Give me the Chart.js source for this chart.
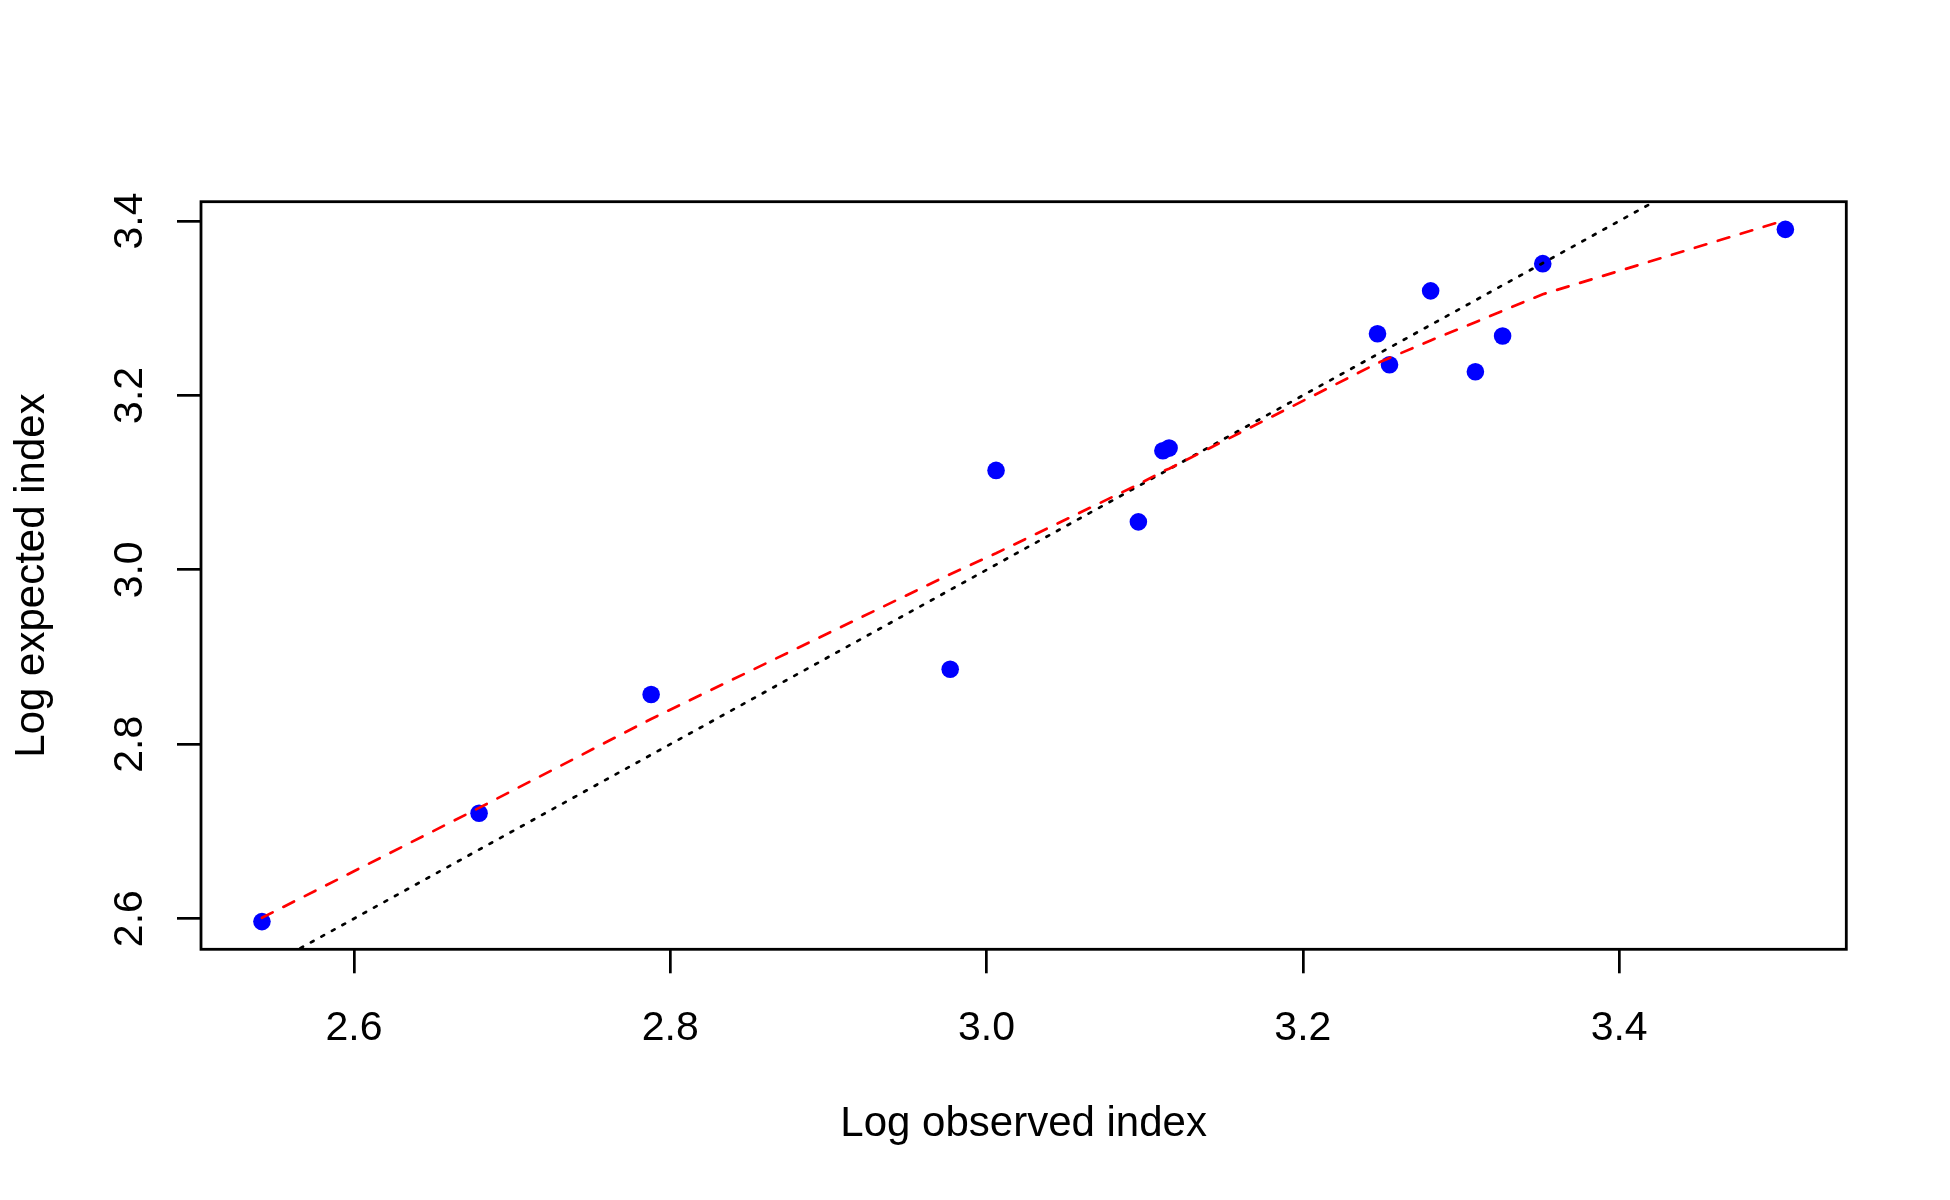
<!DOCTYPE html>
<html>
<head>
<meta charset="utf-8">
<script src="https://cdn.jsdelivr.net/npm/chart.js@4"></script>
<style>
  body { margin: 0; background: #fff; }
  canvas { display: block; }
</style>
</head>
<body>
<canvas id="chart" width="1950" height="1200"></canvas>
<script>
// observed vs expected (log scale), one point per unit
var obsIndex = [2.5418, 2.6791, 2.7879, 2.977, 3.006, 3.096, 3.1115, 3.1154, 3.2472, 3.2548, 3.2808, 3.3091, 3.3263, 3.3517, 3.5051];
var expIndex = [2.5966, 2.7209, 2.857, 2.886, 3.114, 3.055, 3.1366, 3.1396, 3.2707, 3.2352, 3.3199, 3.2271, 3.2682, 3.3511, 3.3904];
// smoother evaluated at the observed x values
var smoothIndex = [2.601, 2.727, 2.829, 2.995, 3.019, 3.098, 3.113, 3.116, 3.237, 3.243, 3.263, 3.284, 3.297, 3.316, 3.401];
// 1:1 reference line ends (clipped by plot area)
var identityEnds = [2.4, 3.6];

var xTicks = [2.6, 2.8, 3.0, 3.2, 3.4];
var yTicks = [2.6, 2.8, 3.0, 3.2, 3.4];

// R style axis limits: data range plus 4% on each side
function padRange(v) {
	var lo = Math.min.apply(null, v), hi = Math.max.apply(null, v);
	var d = (hi - lo) * 0.04;
	return [lo - d, hi + d];
}
var xr = padRange(obsIndex);
var yr = padRange(expIndex);

var FONT = "'Liberation Sans', Arial, sans-serif";

var boxPlugin = {
	id: 'box',
	afterDraw: function(chart) {
		var ctx = chart.ctx, a = chart.chartArea;
		ctx.save();
		ctx.strokeStyle = '#000';
		ctx.lineWidth = 2.8;
		ctx.strokeRect(a.left, a.top, a.right - a.left, a.bottom - a.top);
		// y tick labels, rotated like R (las = 0)
		var ys = chart.scales.y;
		ctx.fillStyle = '#000';
		ctx.font = '41px ' + FONT;
		ctx.textAlign = 'center';
		ctx.textBaseline = 'alphabetic';
		ys.ticks.forEach(function(t) {
			var py = ys.getPixelForValue(t.value);
			ctx.save();
			ctx.translate(142, py);
			ctx.rotate(-Math.PI / 2);
			ctx.fillText(t.value.toFixed(1), 0, 0);
			ctx.restore();
		});
		ctx.restore();
	}
};

new Chart(document.getElementById('chart'), {
	type: 'scatter',
	data: {
		datasets: [
			{
				label: 'lowess',
				data: obsIndex.map(function(x, i) { return {x: x, y: smoothIndex[i]}; }),
				showLine: true,
				borderColor: '#FF0000',
				borderWidth: 2.7,
				borderDash: [12, 12],
				borderCapStyle: 'round',
				pointRadius: 0,
				fill: false,
				tension: 0
			},
			{
				label: '1:1',
				data: identityEnds.map(function(v) { return {x: v, y: v}; }),
				showLine: true,
				borderColor: '#000000',
				borderWidth: 2.7,
				borderDash: [3, 9],
				borderCapStyle: 'round',
				pointRadius: 0,
				fill: false
			},
			{
				label: 'index',
				data: obsIndex.map(function(x, i) { return {x: x, y: expIndex[i]}; }),
				backgroundColor: '#0000FF',
				borderWidth: 0,
				pointRadius: 8.8
			}
		]
	},
	options: {
		responsive: false,
		devicePixelRatio: 1,
		animation: false,
		events: [],
		layout: { padding: { top: 201.7, right: 103.7, bottom: 0, left: 0 } },
		plugins: { legend: { display: false }, tooltip: { enabled: false } },
		scales: {
			x: {
				type: 'linear',
				min: xr[0],
				max: xr[1],
				afterBuildTicks: function(s) { s.ticks = xTicks.map(function(v) { return {value: v}; }); },
				afterFit: function(s) { s.height = 250.7; },
				border: { display: false },
				grid: { display: true, drawOnChartArea: false, drawTicks: true, tickLength: 24, color: '#000', lineWidth: 2.7 },
				ticks: {
					color: '#000',
					font: { family: FONT, size: 41 },
					padding: 31,
					maxRotation: 0,
					autoSkip: false,
					callback: function(v) { return v.toFixed(1); }
				},
				title: {
					display: true,
					text: 'Log observed index',
					color: '#000',
					font: { family: FONT, size: 42 },
					padding: { top: 0, bottom: 50 }
				}
			},
			y: {
				type: 'linear',
				min: yr[0],
				max: yr[1],
				afterBuildTicks: function(s) { s.ticks = yTicks.map(function(v) { return {value: v}; }); },
				afterFit: function(s) { s.width = 201; },
				border: { display: false },
				grid: { display: true, drawOnChartArea: false, drawTicks: true, tickLength: 24, color: '#000', lineWidth: 2.7 },
				ticks: { display: false },
				title: {
					display: true,
					text: 'Log expected index',
					color: '#000',
					font: { family: FONT, size: 42 },
					padding: { top: 7, bottom: 0 }
				}
			}
		}
	},
	plugins: [boxPlugin]
});
</script>
</body>
</html>
